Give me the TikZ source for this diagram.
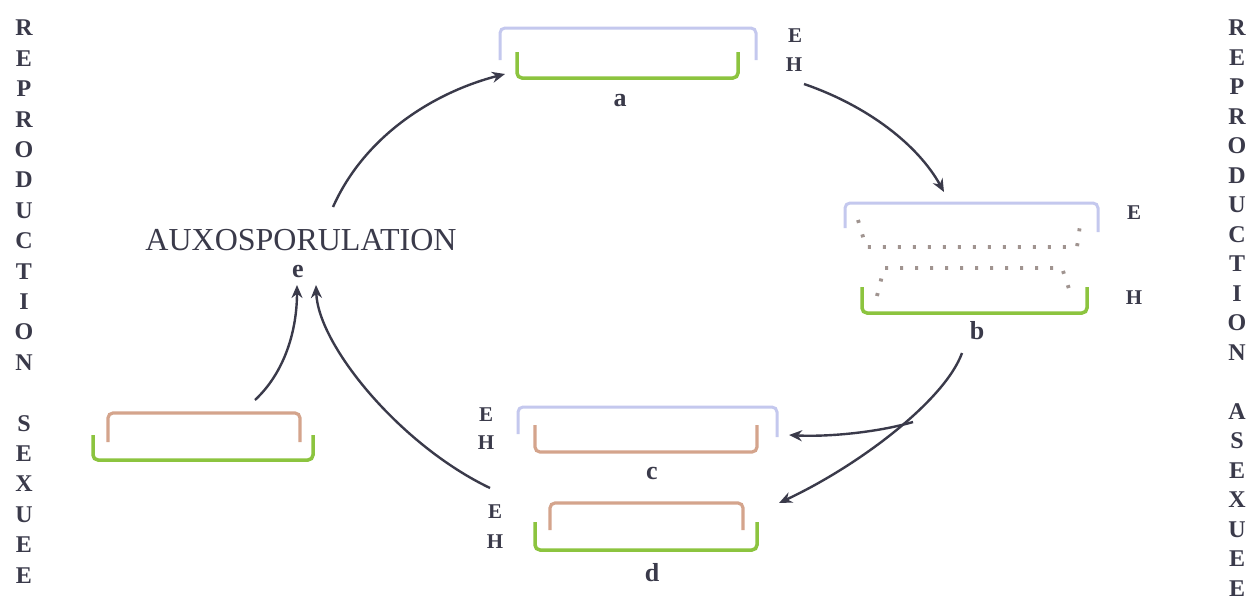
\documentclass[tikz,border=0pt]{standalone}
\usepackage{fontspec}
\setmainfont{Liberation Serif}
\usetikzlibrary{arrows.meta}
\definecolor{valveblue}{HTML}{C4C8EE}
\definecolor{valvegreen}{HTML}{8CC43F}
\definecolor{valvebrown}{HTML}{D4A48C}
\definecolor{dotgray}{HTML}{A09490}
\definecolor{ink}{HTML}{3A3A4A}
\tikzset{
  bl/.style={valveblue,line width=3pt,rounded corners=5pt},
  gr/.style={valvegreen,line width=3.5pt,rounded corners=5pt},
  br/.style={valvebrown,line width=3.2pt,rounded corners=5pt},
  dt/.style={dotgray,line width=3.8pt,dash pattern=on 3pt off 12pt},
  arr/.style={ink,line width=2.4pt,-{Stealth[length=13pt,width=11pt]}},
  side/.style={ink,font=\fontsize{24}{24}\selectfont\bfseries,inner sep=0pt},
  eh/.style={ink,font=\fontsize{21}{21}\selectfont\bfseries,inner sep=0pt},
  lbl/.style={ink,font=\fontsize{26}{26}\selectfont\bfseries,inner sep=0pt},
  big/.style={ink,font=\fontsize{32}{32}\selectfont,inner sep=0pt}
}
\begin{document}
\begin{tikzpicture}[x=1pt,y=-1pt]
\useasboundingbox[fill=white] (0,0) rectangle (1258,603);
% side columns
\foreach \l [count=\i from 0] in {R,E,P,R,O,D,U,C,T,I,O,N,{},S,E,X,U,E,E}
  \node[side] (L\i) at (24,{28+30.4*\i}) {\l};
\foreach \l [count=\i from 0] in {R,E,P,R,O,D,U,C,T,I,O,N,{},A,S,E,X,U,E,E}
  \node[side] (R\i) at (1237,{28+29.5*\i}) {\l};
% a
\draw[bl] (500,60) -- (500,28) -- (756,28) -- (756,60);
\draw[gr] (517,52) -- (517,78) -- (738,78) -- (738,52);
\node[eh] (aE) at (795,36) {E};
\node[eh] (aH) at (794,65) {H};
\node[lbl] (la) at (620,101) {a};
% b
\draw[bl] (845,228) -- (845,203) -- (1098,203) -- (1098,232);
\draw[dt] (858,220) -- (866,247) -- (1077,247) -- (1081,218);
\draw[dt] (877,296) -- (884,268) -- (1062,268) -- (1070,292);
\draw[gr] (862,287) -- (862,313) -- (1087,313) -- (1087,287);
\node[eh] (bE) at (1134,213) {E};
\node[eh] (bH) at (1134,298) {H};
\node[lbl] (lb) at (977,331) {b};
% c
\draw[bl] (518,434) -- (518,407) -- (777,407) -- (777,437);
\draw[br] (535,425) -- (535,452) -- (757,452) -- (757,425);
\node[eh] (cE) at (486,415) {E};
\node[eh] (cH) at (486,443) {H};
\node[lbl] (lc) at (652,473) {c};
% d
\draw[br] (550,530) -- (550,503) -- (743,503) -- (743,530);
\draw[gr] (535,522) -- (535,550) -- (757,550) -- (757,522);
\node[eh] (dE) at (495,512) {E};
\node[eh] (dH) at (495,542) {H};
\node[lbl] (ld) at (652,573) {d};
% e (sexual)
\draw[br] (108,442) -- (108,413) -- (300,413) -- (300,442);
\draw[gr] (93,435) -- (93,460) -- (313,460) -- (313,435);
\node[big] (aux) at (301,240) {AUXOSPORULATION};
\node[lbl] (le) at (298,272) {e};
% arrow anchors
\coordinate (s1) at (333,207);
\coordinate (t1) at (505,74);
\coordinate (s2) at (804,84);
\coordinate (t2) at (944,192);
\coordinate (s3) at (962,353);
\coordinate (j3) at (913,422);
\coordinate (t3c) at (789,435);
\coordinate (t3d) at (779,503);
\coordinate (s4) at (255,400);
\coordinate (t4) at (297,285);
\coordinate (s5) at (490,488);
\coordinate (t5) at (316,285);
\draw[arr] (s1) .. controls (365,135) and (435,92) .. (t1);
\draw[arr] (s2) .. controls (868,106) and (918,145) .. (t2);
\draw[arr] (s3) .. controls (945,400) and (860,465) .. (t3d);
\draw[arr] (j3) .. controls (875,433) and (825,437) .. (t3c);
\draw[arr] (s4) .. controls (285,372) and (297,330) .. (t4);
\draw[arr] (s5) .. controls (400,445) and (318,345) .. (t5);
\end{tikzpicture}
\end{document}
